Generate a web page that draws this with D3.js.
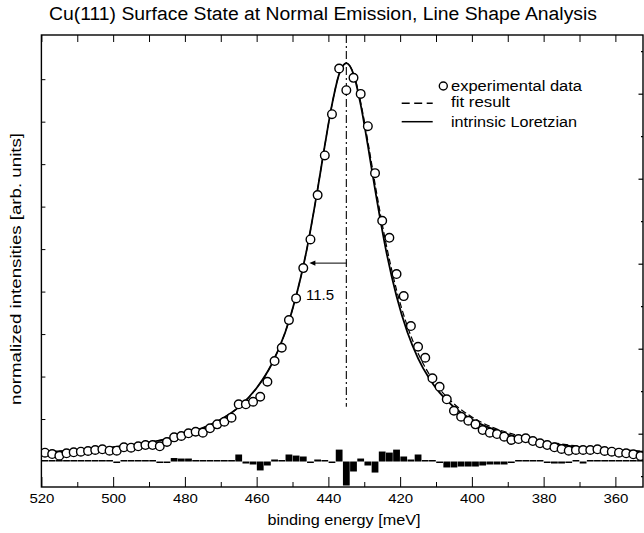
<!DOCTYPE html>
<html><head><meta charset="utf-8">
<script src="https://cdn.jsdelivr.net/npm/d3@7"></script>
<style>
body{margin:0;background:#fff}
svg{display:block}
text{font-family:"Liberation Sans",Arial,Helvetica,sans-serif;fill:#000}
</style>
</head><body>
<svg id="c" width="644" height="533"></svg>
<script>
// ---- data ----
const energy = [519,517,515,513,511,509,507,505,503,501,499,497,495,493,491,489,487,485,483,481,479,477,475,473,471,469,467,465,463,461,459,457,
455,453,451,449,447,445,443,441,439,437,435,433,431,429,427,425,423,421,419,417,415,413,
411,409,407,405,403,401,399,397,395,393,391,389,387,385,383,381,379,377,375,373,371,369,367,365,363,361,359,357,355,353];
const intensity = [0.207,0.176,0.136,0.193,0.216,0.231,0.247,0.271,0.287,0.254,0.254,0.334,0.325,0.358,0.388,0.388,0.358,0.459,0.569,0.600,0.664,0.701,0.678,0.781,0.875,0.936,1.031,1.346,1.346,1.407,1.525,1.878,
2.365,2.678,3.329,3.840,4.553,5.228,6.271,7.205,8.176,9.252,8.741,9.031,8.654,7.894,6.788,5.666,5.266,4.412,3.894,3.188,2.701,2.442,
1.958,1.760,1.464,1.195,1.054,0.960,0.875,0.741,0.678,0.647,0.584,0.506,0.529,0.546,0.482,0.428,0.388,0.334,0.294,0.254,0.271,0.271,0.271,0.287,0.247,0.231,0.207,0.193,0.169,0.129];
const residual = [0.035,0.012,0.012,0.012,0.012,0.012,0.012,0.012,0.012,0.012,-0.012,0.035,0.012,0.012,0.012,0.012,-0.035,-0.012,0.082,0.070,0.070,0.035,0.012,0.012,0.012,0.012,0.012,0.165,-0.047,-0.070,-0.210,-0.094,
0.047,0.012,0.165,0.140,0.118,-0.035,0.047,0.012,-0.012,0.280,-0.565,-0.235,0.070,-0.094,-0.260,0.235,0.210,0.280,0.118,0.047,0.165,0.012,
0.012,-0.024,-0.140,-0.140,-0.118,-0.118,-0.118,-0.094,-0.070,-0.070,-0.070,-0.024,0.024,0.012,0.012,0.012,-0.012,-0.047,-0.047,-0.024,0.012,-0.047,0.024,0.012,0.012,0.012,0.012,0.012,0.012,0.012];
const curveEnergy = [520,510,500,490,480,475,470,465,460,456,452,449,446,443,441,439,437,435,433,431,429,427,424,421,418,415,412,409,405,400,395,390,385,380,370,360,352];
const lorentzian = [0.22,0.27,0.34,0.45,0.64,0.79,0.99,1.28,1.73,2.26,3.05,3.89,5.00,6.41,7.44,8.40,9.12,9.38,9.12,8.40,7.44,6.41,5.00,3.89,3.05,2.43,1.97,1.62,1.28,0.99,0.79,0.64,0.53,0.45,0.34,0.27,0.23];
const fitResult  = [0.22,0.27,0.34,0.45,0.64,0.79,0.99,1.28,1.73,2.26,3.05,3.89,5.00,6.41,7.44,8.40,9.12,9.38,9.13,8.46,7.54,6.54,5.16,4.04,3.19,2.55,2.07,1.71,1.36,1.05,0.83,0.68,0.57,0.48,0.36,0.29,0.24];
const xMajorTicks = [520,500,480,460,440,420,400,380,360];
const xMinorTicks = [510,490,470,450,430,410,390,370];
const yTicks = [1,2,3,4,5,6,7,8,9];
const yRightTicks = [0,1,2,3,4,5,6,7,8,9,10];
const legendLabels = ["experimental data","fit result","intrinsic Loretzian"];
const titleText = "Cu(111) Surface State at Normal Emission, Line Shape Analysis";
const xLabel = "binding energy [meV]";
const yLabel = "normalized intensities [arb. units]";
const peakEnergy = 435, halfWidthLabel = "11.5";

// ---- layout ----
const svg = d3.select('#c');
const L = 41.4, R = 643, T = 35, B = 487;
const x = d3.scaleLinear().domain([520, 352.3]).range([L, R]);
const y = d3.scaleLinear().domain([-0.6, 10.04]).range([B, T]);
const yR = d3.scaleLinear().domain([0, 10]).range([476.7, 51.7]);

svg.append('defs').append('clipPath').attr('id','clip')
  .append('rect').attr('x',L).attr('y',T).attr('width',R-L).attr('height',B-T);

const plot = svg.append('g').attr('clip-path','url(#clip)');

// residual bars
const barW = Math.abs(x(2) - x(0)) - 0.4;
plot.append('g').selectAll('rect').data(energy.map((e,i)=>({e, r: residual[i]})))
  .join('rect')
  .attr('x', d => x(d.e) - barW/2)
  .attr('y', d => d.r >= 0 ? y(d.r) - (Math.abs(y(d.r)-y(0)) < 1.5 ? 1.5 - Math.abs(y(d.r)-y(0)) : 0) : y(0))
  .attr('width', barW)
  .attr('height', d => Math.max(Math.abs(y(d.r) - y(0)), 1.5))
  .attr('fill', '#000');

// curves
const line = d3.line().curve(d3.curveMonotoneX).x(d => x(d[0])).y(d => y(d[1]));
plot.append('path').datum(curveEnergy.map((e,i)=>[e, fitResult[i]]))
  .attr('d', line).attr('fill','none').attr('stroke','#000').attr('stroke-width',1.2)
  .attr('stroke-dasharray','6,3');
plot.append('path').datum(curveEnergy.map((e,i)=>[e, lorentzian[i]]))
  .attr('d', line).attr('fill','none').attr('stroke','#000').attr('stroke-width',1.8);

// vertical dash-dot line at the peak
plot.append('line').attr('x1', x(peakEnergy)).attr('x2', x(peakEnergy))
  .attr('y1', T).attr('y2', y(1.29))
  .attr('stroke','#000').attr('stroke-width',1.1).attr('stroke-dasharray','8,3,2,3');

// half width arrow
const arrowY = y(4.67), arrowTip = x(445.3);
plot.append('line').attr('x1', x(peakEnergy)).attr('x2', arrowTip + 5)
  .attr('y1', arrowY).attr('y2', arrowY).attr('stroke','#000').attr('stroke-width',1);
plot.append('path')
  .attr('d', `M${arrowTip},${arrowY} l6,-2.6 l0,5.2 z`).attr('fill','#000');
svg.append('text').attr('x', 306).attr('y', 300).attr('font-size', 15).text(halfWidthLabel);

// data circles
plot.append('g').selectAll('circle').data(energy.map((e,i)=>[e, intensity[i]]))
  .join('circle')
  .attr('cx', d => x(d[0])).attr('cy', d => y(d[1])).attr('r', 4.3)
  .attr('fill','#fff').attr('stroke','#000').attr('stroke-width',1.4);

// ---- axes ----
const axB = svg.append('g').attr('transform', `translate(0,${B})`)
  .call(d3.axisBottom(x).tickValues(xMajorTicks).tickSizeInner(-10).tickSizeOuter(0).tickPadding(6).tickFormat(d3.format('d')));
axB.select('.domain').remove();
axB.selectAll('text').attr('font-size', 13.5).attr('font-family','"Liberation Sans",Arial,sans-serif')
  .attr('textLength', 25).attr('lengthAdjust','spacingAndGlyphs');
axB.selectAll('line').attr('stroke-width', 1);

const axBm = svg.append('g').attr('transform', `translate(0,${B})`)
  .call(d3.axisBottom(x).tickValues(xMinorTicks).tickSizeInner(-5).tickSizeOuter(0).tickFormat(''));
axBm.select('.domain').remove();

const axT = svg.append('g').attr('transform', `translate(0,${T})`)
  .call(d3.axisTop(x).tickValues(xMajorTicks.concat(xMinorTicks)).tickSizeInner(-7).tickSizeOuter(0).tickFormat(''));
axT.select('.domain').remove();

const axL = svg.append('g').attr('transform', `translate(${L},0)`)
  .call(d3.axisLeft(y).tickValues(yTicks).tickSizeInner(-4).tickSizeOuter(0).tickFormat(''));
axL.select('.domain').remove();

const axR = svg.append('g').attr('transform', `translate(${R},0)`);
axR.selectAll('line').data(yRightTicks).join('line')
  .attr('x1', 0).attr('x2', d => d % 2 ? -4.5 : -2)
  .attr('y1', d => yR(d)).attr('y2', d => yR(d)).attr('stroke','#000').attr('stroke-width',1.2);

// frame
svg.append('rect').attr('x', L).attr('y', T).attr('width', R - L).attr('height', B - T)
  .attr('fill','none').attr('stroke','#000').attr('stroke-width',1.4);

// titles
svg.append('text').attr('x', 323).attr('y', 20).attr('text-anchor','middle').attr('font-size', 18)
  .attr('textLength', 548).attr('lengthAdjust','spacingAndGlyphs').text(titleText);
svg.append('text').attr('x', 344).attr('y', 524.5).attr('text-anchor','middle').attr('font-size', 14.5)
  .attr('textLength', 153).attr('lengthAdjust','spacingAndGlyphs').text(xLabel);
svg.append('text').attr('transform','translate(21,269) rotate(-90)').attr('text-anchor','middle').attr('font-size', 14.5)
  .attr('textLength', 272).attr('lengthAdjust','spacingAndGlyphs').text(yLabel);

// legend
const lg = svg.append('g');
lg.append('circle').attr('cx', 443.3).attr('cy', 86).attr('r', 4)
  .attr('fill','#fff').attr('stroke','#000').attr('stroke-width',1.4);
lg.append('line').attr('x1', 401.7).attr('x2', 432.7).attr('y1', 103.3).attr('y2', 103.3)
  .attr('stroke','#000').attr('stroke-width',1.5).attr('stroke-dasharray','8,4.5');
lg.append('line').attr('x1', 401.7).attr('x2', 432.7).attr('y1', 121.7).attr('y2', 121.7)
  .attr('stroke','#000').attr('stroke-width',1.5);
const legendY = [90.5, 107, 127];
const legendW = [131, 59, 126];
legendLabels.forEach((t, i) => {
  lg.append('text').attr('x', 451).attr('y', legendY[i]).attr('font-size', 14)
    .attr('textLength', legendW[i]).attr('lengthAdjust','spacingAndGlyphs').text(t);
});
</script>
</body></html>
